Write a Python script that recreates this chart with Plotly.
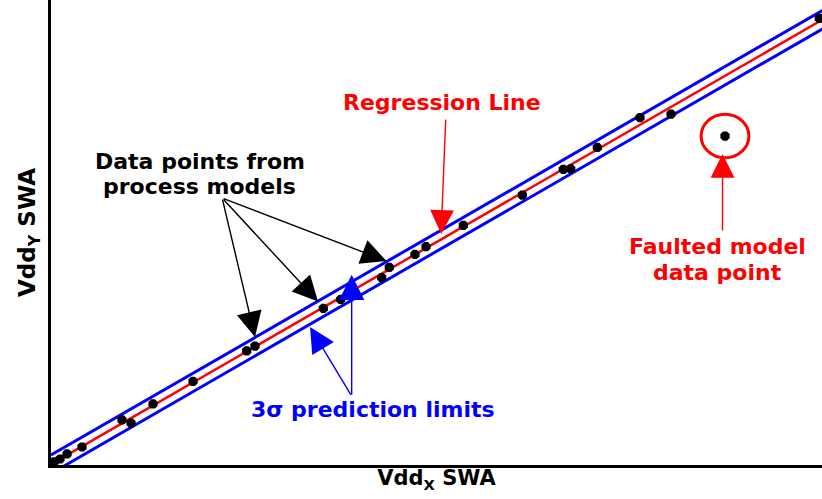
import numpy as np
import plotly.graph_objects as go

# Switching-activity (SWA) pairs from the process models (arbitrary units, 0-100)
vdd_x_swa = [0.39, 1.17, 2.08, 4.02, 9.21, 10.38, 13.23, 18.42, 25.38, 26.46,
             35.32, 37.57, 42.89, 43.88, 47.21, 48.64, 53.48, 61.13, 66.45,
             67.41, 70.86, 76.39, 80.42, 99.65]
vdd_y_swa = [0.65, 1.29, 2.37, 3.87, 9.68, 9.03, 13.12, 17.96, 24.52, 25.59,
             33.70, 35.63, 40.28, 42.52, 45.31, 46.95, 51.55, 58.06, 63.59,
             63.66, 68.32, 74.69, 75.48, 96.06]

# The faulted model sits well outside the prediction band
faulted_x = [87.42]
faulted_y = [70.75]

# Least-squares regression and 3-sigma prediction limits
xs = np.array(vdd_x_swa)
ys = np.array(vdd_y_swa)
slope, intercept = np.polyfit(xs, ys, 1)
resid = ys - (slope * xs + intercept)
sigma = np.sqrt(np.sum(resid ** 2) / (len(xs) - 2))

line_x = np.array([0.0, 105.0])
line_y = slope * line_x + intercept

FONT = "DejaVu Sans"
RED = "#ff0000"
BLUE = "#0000ff"

fig = go.Figure()

for k, color, width in [(3, BLUE, 3), (-3, BLUE, 3), (0, RED, 2.5)]:
    fig.add_trace(go.Scatter(
        x=line_x, y=line_y + k * sigma, mode="lines",
        line=dict(color=color, width=width), hoverinfo="skip", showlegend=False,
    ))

fig.add_trace(go.Scatter(
    x=vdd_x_swa + faulted_x, y=vdd_y_swa + faulted_y, mode="markers",
    marker=dict(symbol="octagon", size=10, color="black"),
    showlegend=False, cliponaxis=False,
))

# Ring around the faulted point
fx, fy = faulted_x[0], faulted_y[0]
fig.add_shape(type="circle", xref="x", yref="y",
              x0=fx - 3.1, x1=fx + 3.1, y0=fy - 4.7, y1=fy + 4.7,
              line=dict(color=RED, width=3))


def label(text, x, y, color, size=22):
    fig.add_annotation(x=x, y=y, xref="x", yref="y", text=f"<b>{text}</b>",
                       showarrow=False, xanchor="center", yanchor="middle",
                       font=dict(family=FONT, size=size, color=color))


def arrow(x0, y0, x1, y1, color, width=1.4, size=3.6):
    fig.add_annotation(x=x1, y=y1, ax=x0, ay=y0, xref="x", yref="y",
                       axref="x", ayref="y", text="", showarrow=True,
                       arrowhead=2, arrowsize=size, arrowwidth=width,
                       arrowcolor=color, standoff=0, startstandoff=0)


label("Regression Line", 50.7, 78.0, RED)
arrow(51.2, 74.6, 50.6, 49.7, RED, width=1.4, size=3.4)

label("Data points from", 19.3, 65.3, "black")
label("process models", 19.3, 59.9, "black")
for hx, hy in [(26.46, 27.53), (34.63, 35.16), (43.51, 43.87)]:
    arrow(22.2, 57.4, hx, hy, "black")

label("3σ prediction limits", 41.8, 12.0, BLUE)
arrow(39.0, 14.8, 33.6, 29.7, BLUE)
arrow(39.0, 14.8, 39.0, 40.9, BLUE)

label("Faulted model", 86.5, 46.9, RED)
label("data point", 86.5, 41.3, RED)
arrow(87.1, 50.1, 87.1, 66.9, RED, width=1.4, size=3.4)

axis_common = dict(showgrid=False, zeroline=False, showticklabels=False,
                   ticks="", showline=True, linecolor="black", linewidth=3,
                   automargin=False)

fig.update_layout(
    width=822, height=499,
    margin=dict(l=51, r=0, t=0, b=34),
    paper_bgcolor="white", plot_bgcolor="white",
    xaxis=dict(range=[0, 100], title=dict(
        text="<b>Vdd<sub>X</sub> SWA</b>", standoff=4,
        font=dict(family=FONT, size=21, color="black")), **axis_common),
    yaxis=dict(range=[0, 100], title=dict(
        text="<b>Vdd<sub>Y</sub> SWA</b>", standoff=6,
        font=dict(family=FONT, size=23, color="black")), **axis_common),
)

fig.write_html("out.html")
